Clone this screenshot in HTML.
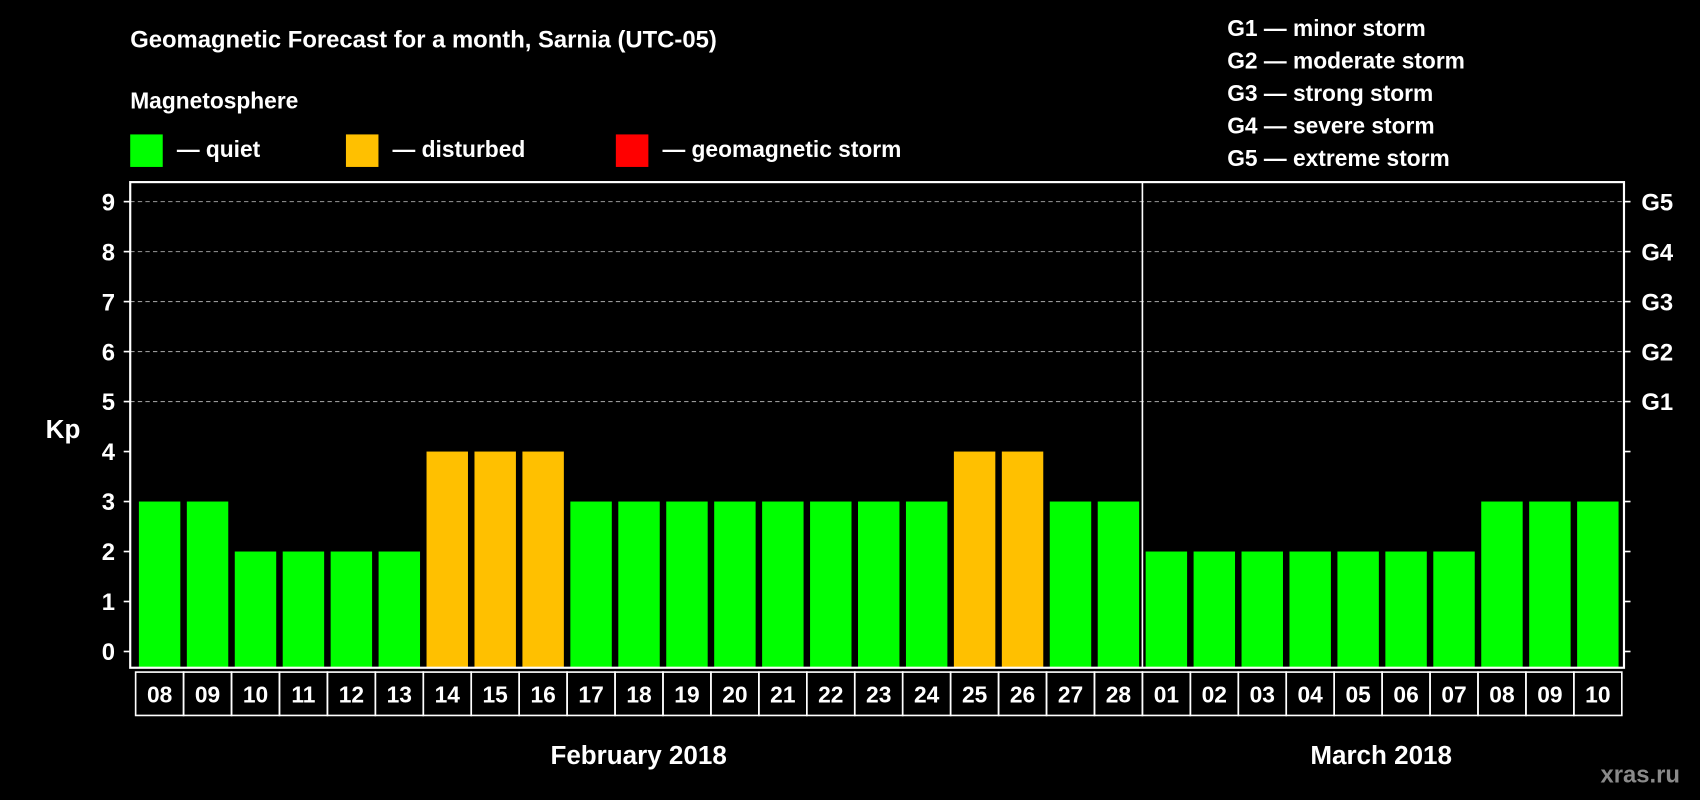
<!DOCTYPE html>
<html><head><meta charset="utf-8"><style>
html,body{margin:0;padding:0;background:#000;}
svg{display:block;}
text{font-family:"Liberation Sans",sans-serif;font-weight:bold;fill:#fff;}
</style></head><body>
<svg id="chart" width="1700" height="800" viewBox="0 0 1568 738" xmlns="http://www.w3.org/2000/svg">
<rect x="0" y="0" width="1568" height="738" fill="#000"/>
<text x="120" y="44" font-size="22">Geomagnetic Forecast for a month, Sarnia (UTC-05)</text>
<text x="120" y="100" font-size="21">Magnetosphere</text>
<g>
<rect x="120" y="124" width="30" height="30" fill="#00ff00"/>
<text x="163" y="145" font-size="21">— quiet</text>
<rect x="319" y="124" width="30" height="30" fill="#ffc000"/>
<text x="362" y="145" font-size="21">— disturbed</text>
<rect x="568" y="124" width="30" height="30" fill="#ff0000"/>
<text x="611" y="145" font-size="21">— geomagnetic storm</text>
</g>
<g font-size="21">
<text x="1132" y="33">G1 — minor storm</text>
<text x="1132" y="63">G2 — moderate storm</text>
<text x="1132" y="93">G3 — strong storm</text>
<text x="1132" y="123">G4 — severe storm</text>
<text x="1132" y="153">G5 — extreme storm</text>
</g>
<g id="grid"></g>
<g id="bars"></g>
<g id="axes"></g>
<text x="58" y="404" font-size="24" text-anchor="middle">Kp</text>
<text x="589" y="705" font-size="24" text-anchor="middle">February 2018</text>
<text x="1274" y="705" font-size="24" text-anchor="middle">March 2018</text>
<text x="1513" y="722" font-size="22" text-anchor="middle" style="fill:#8a8a8a">xras.ru</text>
</svg>
<script>
const days = ["08","09","10","11","12","13","14","15","16","17","18","19","20","21","22","23","24","25","26","27","28","01","02","03","04","05","06","07","08","09","10"];
const kpValues = [3,3,2,2,2,2,4,4,4,3,3,3,3,3,3,3,3,4,4,3,3,2,2,2,2,2,2,2,3,3,3];
const yTicks = [0,1,2,3,4,5,6,7,8,9];
const gLabels = ["G1","G2","G3","G4","G5"];
const gLevels = [5,6,7,8,9];
const febCount = 21;

const NS = "http://www.w3.org/2000/svg";
const plotL = 120, plotR = 1498, plotT = 168, plotB = 616;
const cellL = 125, cellR = 1496;
const cw = (cellR - cellL) / days.length;
function y(v){ return 601 - v * (601 - 186) / 9; }
function x(i){ return cellL + i * cw; }
function color(v){ return v >= 5 ? "#ff0000" : (v >= 4 ? "#ffc000" : "#00ff00"); }
function mk(tag, attrs, parent){ const e = document.createElementNS(NS, tag); for (const k in attrs) e.setAttribute(k, attrs[k]); parent.appendChild(e); return e; }

const grid = document.getElementById("grid");
const bars = document.getElementById("bars");
const axes = document.getElementById("axes");

gLevels.forEach((lv, i) => {
  const gl = mk("line", {x1: plotL, x2: plotR, y1: y(lv), y2: y(lv), stroke: "#999", "stroke-dasharray": "4,3", "stroke-width": 1}, grid);
  
  
  const t = mk("text", {x: 1514, y: y(lv) + 8, "font-size": 22}, axes);
  t.textContent = gLabels[i];
  
  
});

kpValues.forEach((v, i) => {
  const r = mk("rect", {x: x(i) + 3, y: y(v), width: cw - 6, height: plotB - y(v), fill: color(v)}, bars);
  
  
});

const frame = mk("rect", {x: plotL, y: plotT, width: plotR - plotL, height: plotB - plotT, fill: "none", stroke: "#fff", "stroke-width": 2}, axes);


const div = mk("line", {x1: x(febCount), x2: x(febCount), y1: plotT, y2: plotB, stroke: "#fff", "stroke-width": 1.5}, axes);



yTicks.forEach(v => {
  const tl = mk("line", {x1: plotL - 6, x2: plotL, y1: y(v), y2: y(v), stroke: "#fff", "stroke-width": 1.5}, axes);
  
  
  const tr = mk("line", {x1: plotR, x2: plotR + 6, y1: y(v), y2: y(v), stroke: "#fff", "stroke-width": 1.5}, axes);
  
  
  const t = mk("text", {x: 106, y: y(v) + 8, "font-size": 22, "text-anchor": "end"}, axes);
  t.textContent = v;
  
  
});

days.forEach((d, i) => {
  const c = mk("rect", {x: x(i), y: 620, width: cw, height: 40, fill: "none", stroke: "#fff", "stroke-width": 1.5}, axes);
  
  
  const t = mk("text", {x: x(i) + cw / 2, y: 648, "font-size": 21, "text-anchor": "middle"}, axes);
  t.textContent = d;
  
  
});
</script>
</body></html>
